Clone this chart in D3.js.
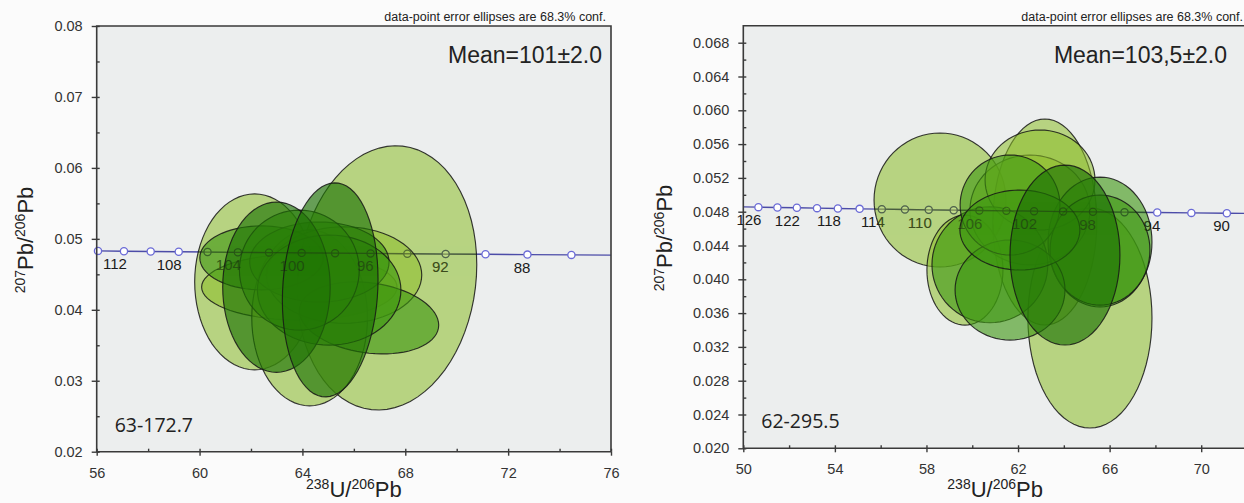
<!DOCTYPE html>
<html>
<head>
<meta charset="utf-8">
<script src="https://cdn.jsdelivr.net/npm/d3@7"></script>
<style>
  body { margin: 0; background: #fbfbfb; }
  svg { display: block; font-family: Arial, "Liberation Sans", sans-serif; }
</style>
</head>
<body>
<script>
// ---------- left sample ----------
var leftSample = "63-172.7";
var leftMean = "Mean=101\u00b12.0";
var leftXTicks = [56, 60, 64, 68, 72, 76];
var leftXMinor = [58, 62, 66, 70, 74];
var leftYTicks = [0.02, 0.03, 0.04, 0.05, 0.06, 0.07, 0.08];
var leftYMinor = [0.025, 0.035, 0.045, 0.055, 0.065, 0.075];
// error ellipses: centre (238U/206Pb, 207Pb/206Pb), 1-sigma half extents, correlation
var leftCx  = [62.14, 62.41, 63.88, 62.99, 65.08, 67.29, 66.59, 64.28, 64.66, 65.62, 65.04, 63.88];
var leftCy  = [0.04394, 0.04732, 0.04320, 0.04319, 0.04281, 0.04450, 0.03886, 0.03886, 0.04673, 0.04490, 0.04278, 0.04559];
var leftSx  = [2.33, 2.40, 3.80, 2.09, 1.86, 3.49, 2.71, 2.25, 2.71, 3.02, 2.79, 2.33];
var leftSy  = [0.0124, 0.00451, 0.00465, 0.0120, 0.01509, 0.01862, 0.00508, 0.0124, 0.00564, 0.0068, 0.00776, 0.00846];
var leftRho = [0, 0, 0, 0, 0.1, 0.1, -0.2, 0, 0, 0, 0, 0];
// concordia points (age in Ma)
var leftConcAge = [114, 112, 110, 108, 106, 104, 102, 100, 98, 96, 94, 92, 90, 88, 86, 84];
var leftConcX   = [56.05, 57.06, 58.10, 59.19, 60.31, 61.49, 62.70, 63.97, 65.27, 66.65, 68.08, 69.57, 71.12, 72.75, 74.46, 76.25];
var leftConcY   = [0.04830, 0.04826, 0.04822, 0.04818, 0.04814, 0.04810, 0.04806, 0.04802, 0.04798, 0.04794, 0.04790, 0.04786, 0.04782, 0.04778, 0.04774, 0.04770];
var leftConcLabels = [112, 108, 104, 100, 96, 92, 88];

// ---------- right sample ----------
var rightSample = "62-295.5";
var rightMean = "Mean=103,5\u00b12.0";
var rightXTicks = [50, 54, 58, 62, 66, 70];
var rightXMinor = [52, 56, 60, 64, 68];
var rightYTicks = [0.020, 0.024, 0.028, 0.032, 0.036, 0.040, 0.044, 0.048, 0.052, 0.056, 0.060, 0.064, 0.068];
var rightYMinor = [0.022, 0.026, 0.030, 0.034, 0.038, 0.042, 0.046, 0.050, 0.054, 0.058, 0.062, 0.066];
var rightCx  = [58.59, 63.17, 65.14, 65.58, 65.58, 59.68, 60.77, 61.65, 61.65, 62.52, 64.05, 62.08, 62.96];
var rightCy  = [0.04938, 0.04678, 0.03542, 0.04441, 0.04346, 0.04109, 0.04172, 0.03873, 0.04879, 0.04820, 0.04287, 0.04583, 0.05175];
var rightSx  = [2.88, 2.27, 2.71, 2.27, 2.18, 1.66, 2.53, 2.40, 2.18, 2.62, 2.40, 2.62, 2.40];
var rightSy  = [0.00793, 0.01219, 0.01302, 0.00769, 0.00651, 0.00651, 0.00686, 0.00592, 0.00592, 0.0065, 0.01065, 0.00473, 0.00592];
var rightRho = [0, 0, 0, 0, 0, 0, 0, 0, 0, 0, 0, 0, 0];
var rightConcAge = [128, 126, 124, 122, 120, 118, 116, 114, 112, 110, 108, 106, 104, 102, 100, 98, 96, 94, 92, 90, 88];
var rightConcX   = [49.87, 50.66, 51.49, 52.34, 53.22, 54.13, 55.08, 56.05, 57.06, 58.10, 59.19, 60.31, 61.49, 62.70, 63.97, 65.27, 66.65, 68.08, 69.57, 71.12, 72.75];
var rightConcY   = [0.04858, 0.04854, 0.04850, 0.04846, 0.04842, 0.04838, 0.04834, 0.04830, 0.04826, 0.04822, 0.04818, 0.04814, 0.04810, 0.04806, 0.04802, 0.04798, 0.04794, 0.04790, 0.04786, 0.04782, 0.04778];
var rightConcLabels = [126, 122, 118, 114, 110, 106, 102, 98, 94, 90];

var confNote = "data-point error ellipses are 68.3% conf.";

var W = 1244, H = 503;
var svg = d3.select("body").append("svg").attr("width", W).attr("height", H);

// ellipse shading (style only): 0 light, 1 mid, 2 dark
var shadeColor = ["#8cbe28", "#3c960f", "#1e7305"];
var shadeOpacity = [0.55, 0.6, 0.65];

function drawPanel(p) {
  var x = d3.scaleLinear().domain(p.xDomain).range(p.xRange);
  var y = d3.scaleLinear().domain(p.yDomain).range(p.yRange);
  var g = svg.append("g");
  var left = p.xRange[0], right = p.xRange[1], top = p.yRange[1], bottom = p.yRange[0];

  g.append("rect").attr("x", left).attr("y", top)
    .attr("width", right - left).attr("height", bottom - top)
    .attr("fill", "#eceeee");

  var clipId = "clip" + p.id;
  svg.append("clipPath").attr("id", clipId).append("rect")
    .attr("x", left).attr("y", top).attr("width", right - left).attr("height", bottom - top);

  var conc = p.concAge.map(function(a, i) { return {age: a, x: p.concX[i], y: p.concY[i]}; });
  var inside = conc.filter(function(d) { return x(d.x) >= left - 1 && x(d.x) <= right; });
  var labelled = conc.filter(function(d) { return p.concLabels.indexOf(d.age) >= 0; });
  var cline = d3.line().x(function(d) { return x(d.x); }).y(function(d) { return y(d.y); });

  // concordia with its age marks, under the ellipses
  var under = g.append("g");
  under.append("path").datum(conc).attr("clip-path", "url(#" + clipId + ")")
    .attr("d", cline).attr("fill", "none").attr("stroke", "#4c4ca8").attr("stroke-width", 1.4);
  under.selectAll("circle").data(inside).enter().append("circle")
    .attr("cx", function(d) { return x(d.x); }).attr("cy", function(d) { return y(d.y); })
    .attr("r", 3.6).attr("fill", "#fff").attr("stroke", "#6a6ad6").attr("stroke-width", 1.3);
  under.selectAll("text").data(labelled).enter().append("text")
    .attr("x", function(d) { return x(d.x) + 3; }).attr("y", function(d) { return y(d.y) + 18; })
    .attr("text-anchor", "end").attr("font-size", 15).attr("fill", "#1a1a1a")
    .text(function(d) { return d.age; });

  // error ellipses, lighter ones underneath
  var steps = d3.range(0, 73).map(function(k) { return k / 72 * 2 * Math.PI; });
  var ell = p.cx.map(function(c, i) {
    var rho = p.rho[i], s = Math.sqrt(1 - rho * rho);
    return {
      shade: p.shade[i],
      pts: steps.map(function(t) {
        return [c + p.sx[i] * Math.cos(t), p.cy[i] + p.sy[i] * (rho * Math.cos(t) + s * Math.sin(t))];
      })
    };
  }).sort(function(a, b) { return a.shade - b.shade; });
  var eline = d3.line().x(function(d) { return x(d[0]); }).y(function(d) { return y(d[1]); }).curve(d3.curveLinearClosed);
  g.append("g").selectAll("path").data(ell).enter().append("path")
    .attr("d", function(d) { return eline(d.pts); })
    .attr("fill", function(d) { return shadeColor[d.shade]; })
    .attr("fill-opacity", function(d) { return shadeOpacity[d.shade]; })
    .attr("stroke", "#161616").attr("stroke-width", 1.15).attr("stroke-opacity", 0.85);

  // faint dark trace of the concordia showing through the ellipses only
  var ellClip = "ell" + p.id;
  svg.append("clipPath").attr("id", ellClip).selectAll("path").data(ell).enter().append("path")
    .attr("d", function(d) { return eline(d.pts); });
  var over = g.append("g").attr("clip-path", "url(#" + ellClip + ")").append("g").attr("opacity", 0.45);
  over.append("path").datum(conc)
    .attr("d", cline).attr("fill", "none").attr("stroke", "#1c2418").attr("stroke-width", 1.3);
  over.selectAll("circle").data(inside).enter().append("circle")
    .attr("cx", function(d) { return x(d.x); }).attr("cy", function(d) { return y(d.y); })
    .attr("r", 3.6).attr("fill", "none").attr("stroke", "#1c2418").attr("stroke-width", 1.2);
  over.selectAll("text").data(labelled).enter().append("text")
    .attr("x", function(d) { return x(d.x) + 3; }).attr("y", function(d) { return y(d.y) + 18; })
    .attr("text-anchor", "end").attr("font-size", 15).attr("fill", "#1a1a1a")
    .text(function(d) { return d.age; });

  // axes
  var axCol = "#3a3a3a";
  var yAx = g.append("g").attr("transform", "translate(" + left + ",0)")
    .call(d3.axisLeft(y).tickValues(p.yTicks).tickSize(5).tickPadding(9).tickFormat(d3.format(p.yFmt)));
  var yIn = g.append("g").attr("transform", "translate(" + left + ",0)")
    .call(d3.axisRight(y).tickValues(p.yTicks.concat(p.yMinor)).tickSize(3).tickFormat(""));
  var xAx = g.append("g").attr("transform", "translate(0," + bottom + ")")
    .call(d3.axisBottom(x).tickValues(p.xTicks).tickSize(4).tickPadding(9).tickFormat(d3.format("d")));
  var xIn = g.append("g").attr("transform", "translate(0," + bottom + ")")
    .call(d3.axisTop(x).tickValues(p.xTicks.concat(p.xMinor)).tickSize(3).tickFormat(""));
  [yAx, yIn, xAx, xIn].forEach(function(a) {
    a.select(".domain").remove();
    a.selectAll("line").attr("stroke", axCol).attr("stroke-width", 1.4);
    a.selectAll("text").attr("font-size", 14.5).attr("fill", "#333").attr("font-family", "Arial, 'Liberation Sans', sans-serif");
  });
  xAx.selectAll("text").attr("dy", "0.9em");

  // frame
  g.append("path")
    .attr("d", "M" + right + "," + bottom + "V" + top + "H" + left + "V" + bottom + "H" + right)
    .attr("fill", "none").attr("stroke", axCol).attr("stroke-width", 1.6);

  // texts
  g.append("text").attr("x", right - p.noteOff).attr("y", top - 5)
    .attr("text-anchor", "end").attr("font-size", 12.5).attr("fill", "#222").text(confNote);
  g.append("text").attr("x", right - p.meanOff).attr("y", top + 37)
    .attr("text-anchor", "end").attr("font-size", 23).attr("fill", "#222").text(p.mean);
  g.append("text").attr("x", left + 18).attr("y", bottom - 20)
    .attr("font-family", "'Open Sans', sans-serif").attr("font-size", 19.5).attr("fill", "#222").text(p.sample);

  var xl = g.append("text").attr("x", (left + p.xLabelRight) / 2).attr("y", 497)
    .attr("text-anchor", "middle").attr("font-size", 22).attr("fill", "#222");
  xl.append("tspan").attr("font-size", 14).attr("dy", -8).text("238");
  xl.append("tspan").attr("dy", 8).text("U/");
  xl.append("tspan").attr("font-size", 14).attr("dy", -8).text("206");
  xl.append("tspan").attr("dy", 8).text("Pb");

  var yl = g.append("text").attr("transform", "translate(" + p.yLabelX + "," + p.yLabelY + ") rotate(-90)")
    .attr("text-anchor", "middle").attr("font-size", 22).attr("fill", "#222");
  yl.append("tspan").attr("font-size", 14).attr("dy", -8).text("207");
  yl.append("tspan").attr("dy", 8).text("Pb/");
  yl.append("tspan").attr("font-size", 14).attr("dy", -8).text("206");
  yl.append("tspan").attr("dy", 8).text("Pb");
}

drawPanel({
  id: "L", xDomain: [56, 76], xRange: [96.7, 611], yDomain: [0.02, 0.08], yRange: [451.7, 26],
  xTicks: leftXTicks, xMinor: leftXMinor, yTicks: leftYTicks, yMinor: leftYMinor, yFmt: ".2f",
  cx: leftCx, cy: leftCy, sx: leftSx, sy: leftSy, rho: leftRho,
  shade: [0, 1, 0, 2, 2, 0, 1, 0, 1, 0, 1, 1],
  concAge: leftConcAge, concX: leftConcX, concY: leftConcY, concLabels: leftConcLabels,
  mean: leftMean, sample: leftSample, noteOff: 5, meanOff: 9,
  xLabelRight: 611, yLabelX: 33, yLabelY: 240
});

drawPanel({
  id: "R", xDomain: [50, 72], xRange: [743.3, 1247], yDomain: [0.02, 0.07], yRange: [448.3, 25.8],
  xTicks: rightXTicks, xMinor: rightXMinor, yTicks: rightYTicks, yMinor: rightYMinor, yFmt: ".3f",
  cx: rightCx, cy: rightCy, sx: rightSx, sy: rightSy, rho: rightRho,
  shade: [0, 0, 0, 1, 1, 0, 1, 1, 1, 0, 2, 1, 0],
  concAge: rightConcAge, concX: rightConcX, concY: rightConcY, concLabels: rightConcLabels,
  mean: rightMean, sample: rightSample, noteOff: 4, meanOff: 20,
  xLabelRight: 1247, yLabelX: 672, yLabelY: 238
});
</script>
</body>
</html>
